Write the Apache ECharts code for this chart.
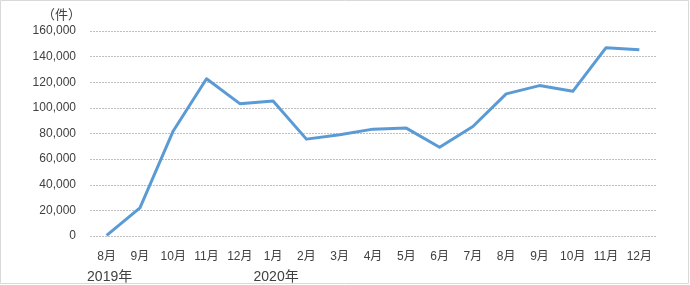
<!DOCTYPE html>
<html>
<head>
<meta charset="utf-8">
<script src="https://cdn.jsdelivr.net/npm/echarts@6/dist/echarts.min.js"></script>
<style>
html,body{margin:0;padding:0;background:#fff;}
#c{width:690px;height:285px;}
</style>
</head>
<body>
<div id="c"></div>
<script>
var months = ['8月','9月','10月','11月','12月','1月','2月','3月','4月','5月','6月','7月','8月','9月','10月','11月','12月'];
var years = ['2019年','','','','','2020年','','','','','','','','','','',''];
var values = [500, 22000, 82000, 122700, 103300, 105400, 75600, 79000, 83400, 84200, 69300, 85500, 110900, 117400, 112900, 147000, 145400];
var yTicks = { min: 0, max: 160000, interval: 20000 };
var unitLabel = '（件）';

var FONT = '"Liberation Sans", "Noto Sans CJK JP", sans-serif';
var chart = echarts.init(document.getElementById('c'), null, {renderer: 'canvas'});
var cats = months.map(function (m, i) { return m + '|' + years[i]; });
chart.setOption({
  animation: false,
  backgroundColor: '#fff',
  grid: { left: 90, right: 34, top: 31, bottom: 49, containLabel: false },
  graphic: [
    { type: 'rect', shape: { x: 0.5, y: 0.5, width: 688, height: 283 }, style: { fill: 'none', stroke: '#d9d9d9', lineWidth: 1 }, silent: true },
    { type: 'text', left: 42, top: 9, style: { text: unitLabel, font: '13px ' + FONT, fill: '#404040' } }
  ],
  xAxis: {
    type: 'category',
    data: cats,
    boundaryGap: true,
    axisLine: { show: false },
    axisTick: { show: false },
    axisLabel: {
      interval: 0,
      margin: 13,
      formatter: function (v) {
        var p = v.split('|');
        return '{m|' + p[0] + '}\n{y|' + (p[1] || ' ') + '}';
      },
      rich: {
        m: { fontSize: 12, fontFamily: FONT, color: '#404040', lineHeight: 16 },
        y: { fontSize: 14, fontFamily: FONT, color: '#404040', lineHeight: 24, padding: [0, 0, 0, 6] }
      }
    }
  },
  yAxis: {
    type: 'value',
    min: yTicks.min, max: yTicks.max, interval: yTicks.interval,
    axisLine: { show: false },
    axisTick: { show: false },
    axisLabel: {
      margin: 14,
      fontSize: 12, fontFamily: FONT, color: '#404040',
      formatter: function (v) { return v.toLocaleString('en-US'); }
    },
    splitLine: { lineStyle: { color: '#bfbfbf', type: [2, 1], width: 1 } }
  },
  series: [{
    type: 'line',
    data: values,
    symbol: 'none',
    lineStyle: { color: '#5b9bd5', width: 3, join: 'round' },
    itemStyle: { color: '#5b9bd5' }
  }]
});
</script>
</body>
</html>
